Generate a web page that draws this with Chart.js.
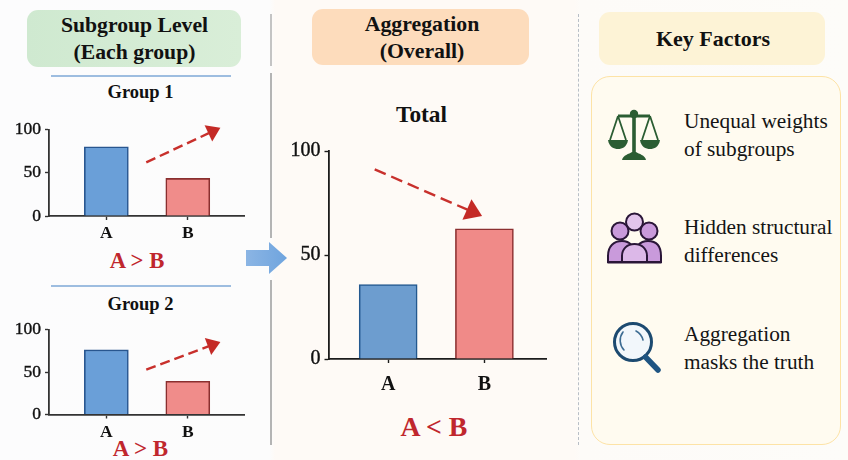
<!DOCTYPE html>
<html>
<head>
<meta charset="utf-8">
<title>Subgroup vs aggregation</title>
<script src="https://cdn.jsdelivr.net/npm/chart.js@4"></script>
<style>
html,body{margin:0;padding:0}
#page{position:relative;width:848px;height:460px;overflow:hidden;font-family:"Liberation Serif",serif;color:#111;
  background:linear-gradient(90deg,#fcfcfd 0,#fcfcfc 270px,#fefaf6 275px,#fefaf6 575px,#fdfbf8 580px,#fdfcf9 100%)}
#page canvas{position:absolute}
.t{position:absolute;text-align:center;font-weight:bold;white-space:nowrap;transform:translate(-50%,-50%)}
.box{position:absolute;border-radius:11px}
.line{position:absolute}
.red{color:#c0272d}
.f{position:absolute;left:684px;font-size:21.3px;line-height:28px;white-space:nowrap;color:#141414}
svg{position:absolute;overflow:visible}
</style>
</head>
<body>
<div id="page">
  <div class="box" style="left:27px;top:10px;width:214px;height:57px;background:linear-gradient(90deg,#cfe9d0,#d9eed8)"></div>
  <div class="box" style="left:312px;top:9px;width:217px;height:56px;background:#fddcbc"></div>
  <div class="box" style="left:599px;top:12px;width:226px;height:53px;background:#fdf3d6"></div>
  <div class="box" style="left:591px;top:76px;width:248px;height:367px;border:1.5px solid #fde3a6;border-radius:19px;background:#fffbf0"></div>

  <div class="line" style="left:270px;top:14px;width:1.5px;height:52px;background:#c4c4c4"></div>
  <div class="line" style="left:270px;top:73px;width:1.5px;height:165px;background:#b4b4b4"></div>
  <div class="line" style="left:270px;top:280px;width:1.5px;height:165px;background:#b4b4b4"></div>
  <div class="line" style="left:578px;top:14px;width:0;height:431px;border-left:1.5px dashed #b8bec6"></div>
  <div class="line" style="left:51px;top:75px;width:180px;height:1.5px;background:#9dbde0"></div>
  <div class="line" style="left:51px;top:285px;width:180px;height:1.5px;background:#9dbde0"></div>

  <div class="t" style="left:134.5px;top:25px;font-size:21.7px">Subgroup Level</div>
  <div class="t" style="left:134.5px;top:52px;font-size:21.7px">(Each group)</div>
  <div class="t" style="left:422px;top:24px;font-size:21.8px">Aggregation</div>
  <div class="t" style="left:422px;top:51px;font-size:21.8px">(Overall)</div>
  <div class="t" style="left:713px;top:39px;font-size:22px">Key Factors</div>
  <div class="t" style="left:140.5px;top:92px;font-size:18.5px">Group 1</div>
  <div class="t" style="left:140.5px;top:304px;font-size:18.5px">Group 2</div>
  <div class="t" style="left:421.5px;top:114px;font-size:23.4px">Total</div>
  <div class="t red" style="left:137px;top:261px;font-size:22.7px">A &gt; B</div>
  <div class="t red" style="left:140.5px;top:449px;font-size:23px">A &gt; B</div>
  <div class="t red" style="left:434px;top:427px;font-size:27.8px">A &lt; B</div>

  <div class="f" style="top:106.5px">Unequal weights<br>of subgroups</div>
  <div class="f" style="top:213px">Hidden structural<br>differences</div>
  <div class="f" style="top:320px">Aggregation<br>masks the truth</div>

  <canvas id="chartGroup1" width="244" height="133" style="left:10px;top:115px"></canvas>
  <canvas id="chartGroup2" width="244" height="133" style="left:10px;top:315px"></canvas>
  <canvas id="chartTotal" width="290" height="271" style="left:270px;top:135px"></canvas>

  <!-- big blue arrow -->
  <svg style="left:0;top:0" width="848" height="460">
    <defs><linearGradient id="blueArrow"><stop offset="0" stop-color="#8bb5e4"/><stop offset="1" stop-color="#6fa4de"/></linearGradient></defs>
    <polygon points="246,250 269,250 269,242 287,258 269,274 269,266 246,266" fill="url(#blueArrow)"/>

    <!-- scales icon -->
    <g fill="none" stroke="#2b5d33" stroke-width="2.2" stroke-linejoin="round">
      <path d="M618,116 H650" stroke-width="3"/>
      <path d="M618,116 L610,140 M618,116 L626,140 M650,116 L642,140 M650,116 L658,140" stroke-width="1.8"/>
    </g>
    <g fill="#2b5d33">
      <circle cx="634" cy="114" r="4.2"/>
      <rect x="632.2" y="114" width="3.6" height="39"/>
      <path d="M608,140 H628 C627,147 622,149 618,149 C614,149 609,147 608,140 Z"/>
      <path d="M640,140 H660 C659,147 654,149 650,149 C646,149 641,147 640,140 Z"/>
      <path d="M622,160 C623,155 629,154 632,152 H636 C639,154 645,155 646,160 Z"/>
    </g>

    <!-- people icon -->
    <g stroke="#2a1638" stroke-width="2">
      <circle cx="634.5" cy="222" r="8.5" fill="#e2c4ec"/>
      <circle cx="620" cy="231" r="8.5" fill="#c99adb"/>
      <circle cx="649" cy="231" r="8.5" fill="#c99adb"/>
      <path d="M608,262 V256 C608,246 614,241 622,241 C630,241 635,247 635,256 V262 Z" fill="#c99adb"/>
      <path d="M634,262 V256 C634,247 640,241 648,241 C656,241 661,246 661,256 V262 Z" fill="#c99adb"/>
      <path d="M622,262 V256 C622,249 627,244 634.5,244 C642,244 647,249 647,256 V262 Z" fill="#dcb8e8"/>
      <path d="M607.5,262.5 H661.5" fill="none"/>
    </g>

    <!-- magnifier -->
    <circle cx="633" cy="342" r="18.5" fill="#f2f7fb" stroke="#1c4a70" stroke-width="3"/>
    <path d="M645.5,357 L658,370" stroke="#1f5582" stroke-width="5.5" stroke-linecap="round"/>
    <path d="M623,332 A14,14 0 0 0 624,350" fill="none" stroke="#3d6c92" stroke-width="1.6" stroke-linecap="round"/>
    <path d="M636,331 A14,14 0 0 1 643,340" fill="none" stroke="#3d6c92" stroke-width="1.6" stroke-linecap="round"/>
  </svg>
</div>

<script>
var categories = ['A', 'B'];
var yTicks = [0, 50, 100];

var group1Values = [80, 43.5];
var group2Values = [76, 39];
var totalValues = [35.8, 62.6];

// trend arrows, in axis units: [x, y] start and end
var group1Trend = [[0.49, 62], [1.4, 102]];
var group2Trend = [[0.49, 52.7], [1.4, 85.4]];
var totalTrend = [[-0.14, 91.2], [0.976, 68.7]];

var trendArrow = {
	id: 'trendArrow',
	afterDatasetsDraw: function(chart, args, opts) {
		var x = chart.scales.x, y = chart.scales.y, c = chart.ctx;
		var x0 = x.getPixelForValue(opts.points[0][0]), y0 = y.getPixelForValue(opts.points[0][1]);
		var x1 = x.getPixelForValue(opts.points[1][0]), y1 = y.getPixelForValue(opts.points[1][1]);
		var a = Math.atan2(y1 - y0, x1 - x0), head = opts.head;
		c.save();
		c.strokeStyle = '#c8302c';
		c.fillStyle = '#c42a26';
		c.lineWidth = 2.4;
		c.setLineDash(opts.dash);
		c.beginPath();
		c.moveTo(x0, y0);
		c.lineTo(x1 - head * 0.8 * Math.cos(a), y1 - head * 0.8 * Math.sin(a));
		c.stroke();
		c.setLineDash([]);
		c.beginPath();
		c.moveTo(x1, y1);
		c.lineTo(x1 - head * Math.cos(a - 0.6), y1 - head * Math.sin(a - 0.6));
		c.lineTo(x1 - head * Math.cos(a + 0.6), y1 - head * Math.sin(a + 0.6));
		c.closePath();
		c.fill();
		c.restore();
	}
};

function barChart(id, values, trend, o) {
	var ctx = document.getElementById(id);
	return new Chart(ctx, {
		type: 'bar',
		plugins: [trendArrow],
		data: {
			datasets: [{
				data: values.map(function(v, i) { return {x: i, y: v}; }),
				backgroundColor: o.fill,
				borderColor: o.edge,
				borderWidth: 1.6,
				barThickness: o.barWidth
			}]
		},
		options: {
			responsive: false,
			animation: false,
			layout: {padding: {top: o.top, right: o.right}},
			plugins: {
				legend: {display: false},
				tooltip: {enabled: false},
				trendArrow: {points: trend, head: o.head, dash: o.dash}
			},
			scales: {
				x: {
					type: 'linear',
					offset: false,
					min: o.xMin,
					max: o.xMax,
					afterBuildTicks: function(s) {
						s.ticks = categories.map(function(c, i) { return {value: i}; });
					},
					afterFit: function(s) { s.height = o.below; },
					border: {color: o.axis, width: o.axisWidth},
					grid: {offset: false, drawOnChartArea: false, tickLength: 4, color: o.axis, tickWidth: 1.4},
					ticks: {
						autoSkip: false,
						maxRotation: 0,
						padding: o.xPad,
						color: '#111',
						font: {family: 'Liberation Serif', size: o.xFont, weight: 'bold'},
						callback: function(v) { return categories[v]; }
					}
				},
				y: {
					min: 0,
					max: 100,
					afterBuildTicks: function(s) {
						s.ticks = yTicks.map(function(v) { return {value: v}; });
					},
					afterFit: function(s) { s.width = o.leftW; },
					border: {color: o.axis, width: o.axisWidth},
					grid: {drawOnChartArea: false, tickLength: 4, color: o.axis, tickWidth: 1.4},
					ticks: {
						padding: 4,
						color: '#111',
						textStrokeColor: '#111',
						textStrokeWidth: 0.4,
						font: {family: 'Liberation Serif', size: o.yFont}
					}
				}
			}
		}
	});
}

var smallStyle = {
	fill: ['#6a9fd8', '#f08c8a'], edge: ['#28568f', '#8a2f2f'], axis: '#333',
	axisWidth: 1.8, barWidth: 44, xMin: -0.704, xMax: 1.69,
	leftW: 39, right: 10, below: 32, xPad: 3, xFont: 17.5, yFont: 17.5, head: 16, dash: [10, 5]
};

barChart('chartGroup1', group1Values, group1Trend, Object.assign({}, smallStyle, {top: 9.5}));
barChart('chartGroup2', group2Values, group2Trend, Object.assign({}, smallStyle, {top: 9, below: 33.5}));
barChart('chartTotal', totalValues, totalTrend, {
	fill: ['#6d9dcf', '#f08a88'], edge: ['#23588f', '#8c2f30'], axis: '#1c1c1c',
	axisWidth: 1.8, barWidth: 58, xMin: -0.62, xMax: 1.64,
	leftW: 58.5, right: 14, top: 12.2, below: 47, xPad: 10, xFont: 20, yFont: 20, head: 20, dash: [12, 6]
});
</script>
</body>
</html>
